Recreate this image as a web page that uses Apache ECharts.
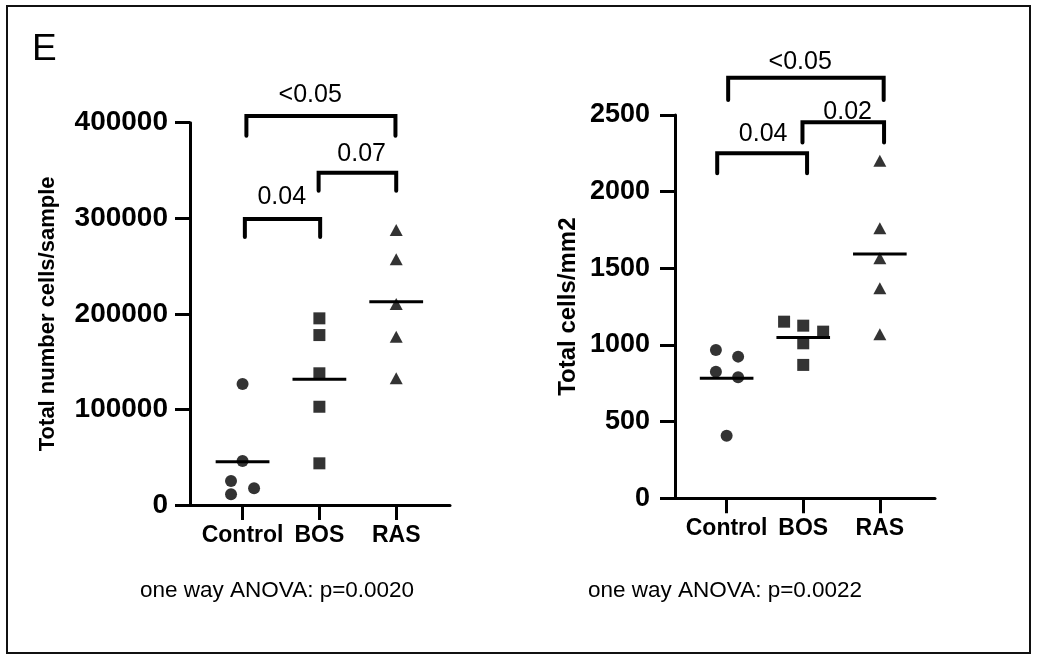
<!DOCTYPE html>
<html>
<head>
<meta charset="utf-8">
<script src="https://cdn.jsdelivr.net/npm/echarts@6/dist/echarts.min.js"></script>
<style>
html, body { margin: 0; padding: 0; background: #fff; }
#chart { width: 1037px; height: 665px; }
</style>
</head>
<body>
<div id="chart"></div>
<script>
var groups = ['Control', 'BOS', 'RAS'];

// total number cells/sample
var totalControl = [126600, 46000, 25100, 11200, 17500];
var totalBOS = [195300, 177800, 137800, 102800, 43600];
var totalRAS = [287700, 257000, 210300, 176000, 132500];

// total cells/mm2
var densControl = [967, 924, 826, 789, 408];
var densBOS = [1152, 1126, 1087, 1011, 870];
var densRAS = [2202, 1761, 1566, 1370, 1070];

// side shift of the dots inside a column (column units)
var jitTotalControl = [0, 0, -0.15, -0.15, 0.15];
var jitDensControl = [-0.14, 0.15, -0.14, 0.15, 0];
var jitDensBOS = [-0.25, 0, 0.26, 0, 0];

var leftTicks = [0, 100000, 200000, 300000, 400000];
var rightTicks = [0, 500, 1000, 1500, 2000, 2500];

// brackets: from x, to x, top y, leg end y, text x, text y
var leftBrackets = [
	[1.03, 2.01, 299200, 280300, 1.51, 322600],
	[1.99, 3.0, 347600, 328800, 2.55, 367200],
	[1.05, 2.99, 406900, 386300, 1.88, 428900]
];
var leftBracketText = ['0.04', '0.07', '<0.05'];
var rightBrackets = [
	[0.877, 2.05, 2251, 2120, 1.477, 2374],
	[1.99, 3.055, 2452, 2320, 2.58, 2522],
	[1.02, 3.05, 2743, 2598, 1.96, 2846]
];
var rightBracketText = ['0.04', '0.02', '<0.05'];

var anovaText = ['one way ANOVA: p=0.0020', 'one way ANOVA: p=0.0022'];

var FONT = 'Liberation Sans, Arial, sans-serif';
var chart = echarts.init(document.getElementById('chart'));

function dots(idx, values, jit, g, symbol, size) {
	return {
		type: 'scatter',
		xAxisIndex: idx,
		yAxisIndex: idx,
		symbol: symbol,
		symbolSize: size,
		itemStyle: { color: '#000' },
		silent: true,
		data: values.map(function(v, i) {
			return [g + (jit ? jit[i] : 0), v];
		})
	};
}

function meanLines(idx, sets) {
	var means = sets.map(function(s) {
		var sum = 0;
		for (var i = 0; i < s.length; i++) sum += s[i];
		return sum / s.length;
	});
	return {
		type: 'custom',
		xAxisIndex: idx,
		yAxisIndex: idx,
		silent: true,
		z: 3,
		data: means.map(function(m, i) { return [i + 1, m]; }),
		renderItem: function(params, api) {
			var a = api.coord([api.value(0) - 0.35, api.value(1)]);
			var b = api.coord([api.value(0) + 0.35, api.value(1)]);
			return {
				type: 'line',
				shape: { x1: a[0], y1: a[1], x2: b[0], y2: b[1] },
				style: { stroke: '#000', lineWidth: 3 }
			};
		}
	};
}

function brackets(idx, list, texts) {
	return {
		type: 'custom',
		xAxisIndex: idx,
		yAxisIndex: idx,
		silent: true,
		clip: false,
		data: list.map(function(b) { return [b[0], b[2]]; }),
		renderItem: function(params, api) {
			var b = list[params.dataIndex];
			var p1 = api.coord([b[0], b[3]]);
			var p2 = api.coord([b[0], b[2]]);
			var p3 = api.coord([b[1], b[2]]);
			var p4 = api.coord([b[1], b[3]]);
			var t = api.coord([b[4], b[5]]);
			return {
				type: 'group',
				children: [{
					type: 'polyline',
					shape: { points: [p1, p2, p3, p4] },
					style: { stroke: '#000', lineWidth: 4, fill: null, lineCap: 'round', lineJoin: 'miter' }
				}, {
					type: 'text',
					x: t[0],
					y: t[1],
					style: {
						text: texts[params.dataIndex],
						fontSize: 25,
						fontFamily: FONT,
						fill: '#000',
						align: 'center',
						verticalAlign: 'middle'
					}
				}]
			};
		}
	};
}

function xAxis(idx, min, max) {
	return {
		type: 'value',
		gridIndex: idx,
		min: min,
		max: max,
		splitLine: { show: false },
		axisLine: { show: true, onZero: false, lineStyle: { color: '#000', width: 3 } },
		axisTick: { show: true, customValues: [1, 2, 3], length: 15, lineStyle: { color: '#000', width: 3 } },
		axisLabel: {
			customValues: [1, 2, 3],
			formatter: function(v) { return groups[Math.round(v) - 1]; },
			color: '#000',
			fontWeight: 'bold',
			fontSize: 23,
			fontFamily: FONT,
			margin: 19
		}
	};
}

function yAxis(idx, ticks, name, gap, margin, nameSize, labelSize) {
	return {
		type: 'value',
		gridIndex: idx,
		min: ticks[0],
		max: ticks[ticks.length - 1],
		interval: ticks[1] - ticks[0],
		name: name,
		nameLocation: 'middle',
		nameRotate: 90,
		nameGap: gap,
		nameTextStyle: { color: '#000', fontWeight: 'bold', fontSize: nameSize, fontFamily: FONT },
		splitLine: { show: false },
		axisLine: { show: true, onZero: false, lineStyle: { color: '#000', width: 3 } },
		axisTick: { show: true, length: 15, lineStyle: { color: '#000', width: 3 } },
		axisLabel: {
			formatter: function(v) { return String(v); },
			color: '#000', fontWeight: 'bold', fontSize: labelSize, fontFamily: FONT, margin: margin
		}
	};
}

var option = {
	animation: false,
	backgroundColor: '#fff',
	grid: [
		{ left: 190, right: 587, top: 122.7, bottom: 160 },
		{ left: 675, right: 102, top: 115, bottom: 166.7 }
	],
	xAxis: [xAxis(0, 0.316, 3.70), xAxis(1, 0.326, 3.72)],
	yAxis: [
		yAxis(0, leftTicks, 'Total number cells/sample', 131, 22, 22, 28),
		yAxis(1, rightTicks, 'Total cells/mm2', 95, 25, 24, 27)
	],
	graphic: [
		{ type: 'rect', shape: { x: 7, y: 6, width: 1023, height: 647 }, style: { fill: null, stroke: '#111', lineWidth: 2 } },
		{ type: 'text', x: 32, y: 50, style: { text: 'E', fontSize: 37, fontFamily: FONT, fill: '#000', verticalAlign: 'middle' } },
		{ type: 'text', x: 140, y: 591, style: { text: anovaText[0], fontSize: 22.5, fontFamily: FONT, fill: '#000', verticalAlign: 'middle' } },
		{ type: 'text', x: 588, y: 591, style: { text: anovaText[1], fontSize: 22.5, fontFamily: FONT, fill: '#000', verticalAlign: 'middle' } }
	],
	series: [
		dots(0, totalControl, jitTotalControl, 1, 'circle', 12),
		dots(0, totalBOS, null, 2, 'rect', 12),
		dots(0, totalRAS, null, 3, 'triangle', [13, 12]),
		meanLines(0, [totalControl, totalBOS, totalRAS]),
		brackets(0, leftBrackets, leftBracketText),
		dots(1, densControl, jitDensControl, 1, 'circle', 12),
		dots(1, densBOS, jitDensBOS, 2, 'rect', 12),
		dots(1, densRAS, null, 3, 'triangle', [13, 12]),
		meanLines(1, [densControl, densBOS, densRAS]),
		brackets(1, rightBrackets, rightBracketText)
	]
};

chart.setOption(option);
</script>
</body>
</html>
